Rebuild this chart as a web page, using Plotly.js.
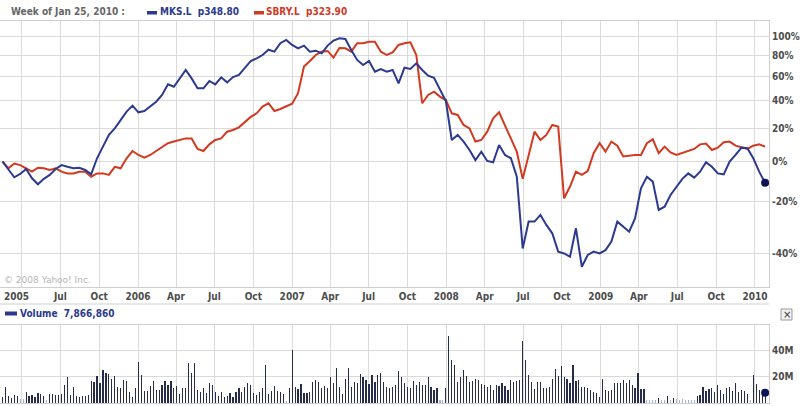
<!DOCTYPE html>
<html><head><meta charset="utf-8">
<script src="https://cdn.plot.ly/plotly-3.0.1.min.js"></script>
<style>html,body{margin:0;padding:0;background:#fff;} #chart{width:804px;height:406px;}</style>
</head><body><div id="chart"></div>
<script>
// ---- data ----
const priceStart = '2005-02-14';
const priceStepDays = 14;
const mksPct = [
0, -4.6, -8.4, -6.7, -4.1, -8.9, -11.9, -9.2, -7.2, -4.1,
-2.0, -2.9, -3.7, -3.4, -4.6, -6.9, 1.8, 8.6, 15.9, 20.2,
26.0, 31.9, 36.4, 31.4, 32.4, 35.6, 39.4, 44.7, 53.5, 51.5,
58.7, 66.3, 58.7, 50.2, 50.2, 56.4, 53.5, 59.6, 55.2, 59.9,
61.7, 67.8, 74.8, 77.4, 80.7, 86.1, 84.1, 92.9, 96.5, 91.1,
87.5, 90.4, 84.1, 85.1, 82.4, 90.4, 95.8, 98.3, 97.6, 85.8,
75.8, 70.9, 74.8, 64.7, 67.2, 64.7, 66.3, 54.4, 68.4, 67.2,
72.5, 66.3, 61.1, 59.3, 48.8, 39.9, 12.7, 15.9, 11.7, 6.6,
0.8, 5.6, 0.3, -0.4, 9.6, 3.7, 1.8, -8.1, -38.3, -28.4,
-28.4, -25.7, -29.7, -32.9, -39.4, -40.0, -41.1, -31.0, -44.3, -40.5,
-39.4, -40.0, -38.9, -35.9, -28.4, -30.4, -32.3, -27.1, -13.8, -8.1,
-10.6, -23.6, -22.2, -17.0, -13.0, -9.2, -6.4, -8.6, -5.5, -0.4,
-2.9, -6.4, -6.9, -0.1, 3.7, 8.0, 7.6, 1.8, -5.5, -11.2
];
const sbryPct = [
0, -3.7, -1.1, -2.0, -3.7, -5.5, -3.4, -3.7, -4.6, -3.7,
-5.5, -6.4, -6.4, -5.5, -5.5, -8.1, -6.4, -6.4, -7.2, -2.9,
-3.7, 1.8, 6.0, 3.7, 2.2, 3.7, 6.0, 8.2, 10.7, 11.7,
12.5, 13.7, 13.7, 7.2, 6.0, 10.0, 12.7, 13.7, 18.0, 19.1,
20.9, 24.8, 28.1, 30.7, 35.7, 38.2, 32.4, 33.9, 36.1, 37.9,
46.1, 69.4, 74.8, 80.7, 84.1, 84.8, 78.1, 87.9, 87.5, 84.1,
92.9, 92.9, 94.6, 94.6, 84.1, 80.7, 83.4, 91.1, 92.9, 93.9,
80.7, 38.2, 44.7, 47.4, 43.4, 40.7, 30.7, 29.5, 22.5, 20.2,
11.7, 12.7, 18.0, 27.1, 31.4, 22.5, 13.7, 5.6, -9.2, 3.7,
18.0, 12.7, 15.9, 22.5, 21.4, -18.5, -13.0, -5.5, -7.2, -5.2,
4.7, 10.7, 5.6, 11.7, 9.2, 2.8, 3.3, 3.7, 3.7, 10.7,
13.1, 4.7, 8.6, 5.2, 3.7, 5.0, 6.2, 7.2, 10.0, 10.5,
6.6, 8.0, 11.3, 11.7, 9.2, 8.4, 7.2, 9.2, 10.0, 8.6
];
const volumeStart = '2005-02-07';
const volumeStepDays = 7;
const volumeM = [
5.0, 4.7, 12.5, 5.2, 4.2, 6.0, 5.2, 2.9, 2.9, 8.6,
5.2, 6.5, 4.7, 7.8, 6.8, 5.2, 2.1, 6.8, 6.8, 6.0,
6.0, 6.8, 13.8, 20.3, 6.0, 12.5, 5.2, 4.7, 5.2, 5.2,
6.0, 17.2, 16.4, 20.8, 15.6, 25.0, 22.9, 22.4, 18.2, 20.8,
12.5, 11.2, 17.7, 16.9, 8.6, 4.7, 11.2, 31.2, 21.6, 9.4,
9.4, 13.0, 16.9, 9.9, 9.9, 13.8, 16.9, 13.8, 16.9, 11.2,
13.0, 7.3, 11.2, 11.2, 30.7, 22.9, 30.7, 9.9, 8.6, 11.2,
7.8, 15.1, 13.8, 8.6, 5.2, 8.6, 4.7, 5.2, 7.8, 4.7,
8.6, 11.2, 8.6, 12.5, 15.1, 13.8, 7.8, 6.0, 8.6, 11.2,
29.4, 7.3, 9.4, 13.0, 9.4, 8.6, 6.8, 1.3, 11.2, 41.1,
12.5, 10.4, 14.3, 7.8, 7.8, 8.6, 16.4, 17.7, 16.4, 11.2,
13.0, 11.2, 20.3, 15.1, 26.8, 12.5, 7.3, 18.2, 26.8, 12.5,
16.4, 15.1, 22.4, 20.3, 17.7, 14.6, 21.6, 16.4, 21.6, 22.9,
16.4, 12.5, 11.2, 12.5, 13.8, 24.7, 19.8, 15.1, 12.5, 11.2,
17.2, 13.8, 16.4, 13.8, 13.8, 20.3, 12.5, 9.9, 11.2, 2.1,
2.1, 11.2, 51.5, 33.3, 29.4, 16.4, 20.3, 25.0, 20.8, 16.4,
16.9, 18.2, 17.7, 14.6, 13.8, 12.5, 13.8, 9.9, 13.8, 13.0,
15.1, 13.0, 9.9, 17.7, 16.4, 16.9, 17.7, 47.6, 32.8, 21.6,
15.9, 10.7, 16.1, 16.1, 11.4, 11.4, 12.5, 18.5, 26.3, 21.1,
28.1, 20.3, 18.2, 15.1, 29.4, 17.2, 17.7, 12.5, 12.0, 11.7,
9.9, 8.6, 7.8, 4.7, 18.5, 9.9, 9.1, 9.9, 15.6, 15.1,
15.6, 17.7, 15.1, 17.7, 13.8, 11.2, 22.9, 10.7, 10.7, 2.1,
2.1, 2.6, 2.1, 4.2, 2.6, 2.1, 5.2, 2.6, 4.2, 2.9,
2.1, 3.4, 2.1, 2.1, 2.1, 2.6, 5.2, 6.0, 12.5, 9.1,
10.4, 11.2, 8.6, 13.8, 9.9, 7.3, 11.2, 12.5, 9.4, 15.1,
8.6, 9.9, 9.1, 7.3, 2.1, 21.6, 14.6, 9.9, 7.3, 7.87
];
const xTickDates = ['2005-04-01','2005-07-01','2005-10-01','2006-01-01','2006-04-01','2006-07-01','2006-10-01',
  '2007-01-01','2007-04-01','2007-07-01','2007-10-01','2008-01-01','2008-04-01','2008-07-01','2008-10-01',
  '2009-01-01','2009-04-01','2009-07-01','2009-10-01','2010-01-01'];
const xTickText = ['','Jul','Oct','2006','Apr','Jul','Oct','2007','Apr','Jul','Oct','2008','Apr','Jul','Oct','2009','Apr','Jul','Oct','2010'];
const yTickPct = [-40, -20, 0, 20, 40, 60, 80, 100];
const yTickText = ['-40%', '-20%', '0%', '20%', '40%', '60%', '80%', '100%'];
const volTickVals = [20, 40, 60];
const volTickText = ['20M', '40M', ''];
const legendWeek = 'Week of Jan 25, 2010 :';
const mksLabel = 'MKS.L  p348.80';
const sbryLabel = 'SBRY.L  p323.90';
const volLabel = 'Volume  7,866,860';

// ---- helpers ----
function datesFrom(start, step, n) {
  const d0 = new Date(start + 'T00:00:00Z').getTime();
  return Array.from({length: n}, (_, i) => new Date(d0 + i * step * 86400000).toISOString().slice(0, 10));
}
const pDates = datesFrom(priceStart, priceStepDays, mksPct.length);
const vDates = datesFrom(volumeStart, volumeStepDays, volumeM.length);
const ratio = a => a.map(p => 1 + p / 100);

const NAVY = '#2b3a8e', RED = '#d3391f', GRID = '#dadada', TXT = '#4d4d4d';
const FONT = 'DejaVu Sans Condensed, DejaVu Sans, sans-serif';
const W = 769, BOT = 403, H = 382;
const px = x => x / W, py = y => (BOT - y) / H;

const traces = [
  {x: vDates, y: volumeM, type: 'bar', xaxis: 'x2', yaxis: 'y2', width: 2.8 * 86400000,
   marker: {color: volumeM.map(v => v < 3.5 ? '#a9b1cc' : '#252d4a'), line: {width: 0}}, hoverinfo: 'skip'},
  {x: pDates, y: ratio(sbryPct), type: 'scatter', mode: 'lines', line: {color: RED, width: 2}, hoverinfo: 'skip'},
  {x: pDates, y: ratio(mksPct), type: 'scatter', mode: 'lines', line: {color: NAVY, width: 2}, hoverinfo: 'skip'},
  {x: [pDates[pDates.length - 1]], y: [1 + mksPct[mksPct.length - 1] / 100], type: 'scatter', mode: 'markers',
   marker: {color: '#0b1456', size: 8}, hoverinfo: 'skip'},
  {x: [vDates[vDates.length - 1]], y: [volumeM[volumeM.length - 1]], type: 'scatter', mode: 'markers',
   xaxis: 'x2', yaxis: 'y2', marker: {color: '#0b1456', size: 8}, hoverinfo: 'skip'}
];

const xRange = ['2005-02-08 05:00', '2010-02-03 05:00'];
const tickFont = {family: FONT, size: 10, color: TXT, weight: 'bold'};

const layout = {
  width: 804, height: 406, showlegend: false, paper_bgcolor: '#fff', plot_bgcolor: '#fff',
  margin: {l: 0, r: 35, t: 21, b: 3, pad: 0}, bargap: 0,
  xaxis: {type: 'date', range: xRange, domain: [0, 1], anchor: 'y', tickvals: xTickDates, ticktext: xTickText,
    showgrid: true, gridcolor: GRID, gridwidth: 1, ticks: '', tickfont: tickFont, tickangle: 0,
    showline: true, linecolor: '#cfcfcf', mirror: true, zeroline: false, fixedrange: true},
  yaxis: {type: 'log', domain: [0.3037, 1], anchor: 'x', side: 'right',
    range: [-0.3028, 0.3390], tickvals: yTickPct.map(p => 1 + p / 100), ticktext: yTickText,
    showgrid: true, gridcolor: GRID, ticks: '', tickfont: tickFont, showline: true, linecolor: '#cfcfcf',
    mirror: true, zeroline: false},
  xaxis2: {type: 'date', range: xRange, domain: [0, 1], anchor: 'y2', tickvals: xTickDates, showticklabels: false,
    showgrid: true, gridcolor: GRID, ticks: '', showline: true, linecolor: '#cfcfcf', mirror: true, zeroline: false},
  yaxis2: {domain: [0, 0.2042], anchor: 'x2', side: 'right', range: [0, 60], tickvals: volTickVals, ticktext: volTickText,
    showgrid: true, gridcolor: GRID, ticks: '', tickfont: tickFont, showline: true, linecolor: '#cfcfcf',
    mirror: true, zeroline: false},
  shapes: [
    {type: 'line', xref: 'paper', yref: 'paper', x0: 0, x1: 1, y0: py(304), y1: py(304), line: {color: '#cfcfcf', width: 1}},
    {type: 'rect', xref: 'paper', yref: 'paper', x0: px(147), x1: px(157), y0: py(14.5), y1: py(11), fillcolor: NAVY, line: {width: 0}},
    {type: 'rect', xref: 'paper', yref: 'paper', x0: px(254), x1: px(264), y0: py(14.5), y1: py(11), fillcolor: RED, line: {width: 0}},
    {type: 'rect', xref: 'paper', yref: 'paper', x0: px(5), x1: px(17), y0: py(315.5), y1: py(311.5), fillcolor: NAVY, line: {width: 0}},
    {type: 'rect', xref: 'paper', yref: 'paper', x0: px(781), x1: px(792), y0: py(320), y1: py(309), fillcolor: '#f0f0f0', line: {color: '#9a9a9a', width: 1}}
  ],
  annotations: [
    {xref: 'paper', yref: 'paper', x: px(9), y: py(12), xanchor: 'left', yanchor: 'middle', showarrow: false,
     text: legendWeek, font: {family: FONT, size: 10, color: '#666', weight: 'bold'}},
    {xref: 'paper', yref: 'paper', x: px(158), y: py(12), xanchor: 'left', yanchor: 'middle', showarrow: false,
     text: mksLabel, font: {family: FONT, size: 10, color: NAVY, weight: 'bold'}},
    {xref: 'paper', yref: 'paper', x: px(264), y: py(12), xanchor: 'left', yanchor: 'middle', showarrow: false,
     text: sbryLabel, font: {family: FONT, size: 10, color: RED, weight: 'bold'}},
    {xref: 'paper', yref: 'paper', x: px(18), y: py(313.5), xanchor: 'left', yanchor: 'middle', showarrow: false,
     text: volLabel, font: {family: FONT, size: 10, color: NAVY, weight: 'bold'}},
    {xref: 'paper', yref: 'paper', x: px(2), y: py(296), xanchor: 'left', yanchor: 'middle', showarrow: false,
     text: '2005', font: tickFont},
    {xref: 'paper', yref: 'paper', x: px(2), y: py(280), xanchor: 'left', yanchor: 'middle', showarrow: false,
     text: '© 2008 Yahoo! Inc.', font: {family: 'DejaVu Sans, sans-serif', size: 9, color: '#b5b5b5'}},
    {xref: 'paper', yref: 'paper', x: px(786.5), y: py(314.5), xanchor: 'center', yanchor: 'middle', showarrow: false,
     text: '×', font: {family: 'DejaVu Sans, sans-serif', size: 10, color: '#333'}}
  ]
};

Plotly.newPlot('chart', traces, layout, {displayModeBar: false, staticPlot: true});
</script>
</body></html>
